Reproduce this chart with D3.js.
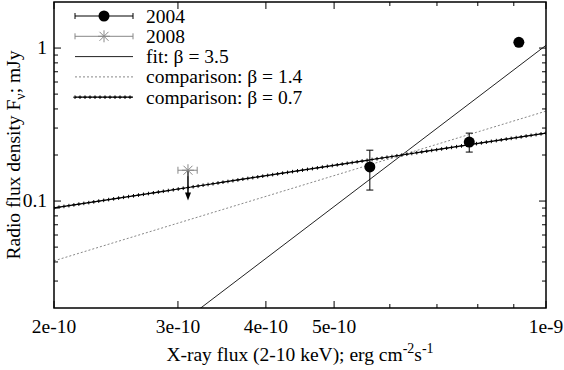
<!DOCTYPE html>
<html><head><meta charset="utf-8">
<script src="https://cdn.jsdelivr.net/npm/d3@7"></script>
<style>body{margin:0;background:#fff}svg{display:block}</style>
</head><body>
<svg id="c" width="564" height="370"></svg>
<script>
// ---- data ----
const xDomain = [2e-10, 1e-9];
const yDomain = [0.02, 2];
const xMajorTicks = [2e-10, 3e-10, 4e-10, 5e-10, 1e-9];
const xMajorLabels = ["2e-10", "3e-10", "4e-10", "5e-10", "1e-9"];
const xMinorTicks = [6e-10, 7e-10, 8e-10, 9e-10];
const yMajorTicks = [0.1, 1];
const yMajorLabels = ["0.1", "1"];
const yMinorTicks = [0.03,0.04,0.05,0.06,0.07,0.08,0.09,0.2,0.3,0.4,0.5,0.6,0.7,0.8,0.9];

const x2004 = [5.62e-10, 7.78e-10, 9.15e-10];
const y2004 = [0.167, 0.243, 1.09];
const y2004Lo = [0.118, 0.209, null];
const y2004Hi = [0.215, 0.278, null];

const x2008 = [3.10e-10];
const y2008 = [0.159];
const x2008Lo = [3.00e-10];
const x2008Hi = [3.195e-10];
const y2008Arrow = [0.101];

const pivotX = 6.24e-10, pivotY = 0.2;
const betaFit = 3.5, betaCmp1 = 1.4, betaCmp2 = 0.7;
const nSamples = 100;
const legendLabels = ["2004", "2008", "fit: β = 3.5", "comparison: β = 1.4", "comparison: β = 0.7"];

// ---- layout ----
const L = 54, R = 546, T = 2, B = 308;
const FONT = "Liberation Serif";
const svg = d3.select("#c");
const x = d3.scaleLog().domain(xDomain).range([L, R]);
const y = d3.scaleLog().domain(yDomain).range([B, T]);
const FS = 19.5;
function txt(sel){ return sel.append("text").attr("font-family",FONT).attr("font-size",FS).attr("fill","#000"); }

svg.append("defs").append("clipPath").attr("id","clip")
  .append("rect").attr("x",L).attr("y",T).attr("width",R-L).attr("height",B-T);
const g = svg.append("g").attr("clip-path","url(#clip)");

function powerLaw(beta){ return v => pivotY*Math.pow(v/pivotX, beta); }
const samples = d3.range(nSamples).map(i => xDomain[0]*Math.pow(xDomain[1]/xDomain[0], i/(nSamples-1)));
const line = d3.line().x(d => x(d[0])).y(d => y(d[1]));

// fit
g.append("path").attr("d", line(xDomain.map(v=>[v, powerLaw(betaFit)(v)])))
  .attr("fill","none").attr("stroke","#222").attr("stroke-width",1);
// comparison 1.4 dotted
g.append("path").attr("d", line(xDomain.map(v=>[v, powerLaw(betaCmp1)(v)])))
  .attr("fill","none").attr("stroke","#888").attr("stroke-width",1).attr("stroke-dasharray","2,2");
// comparison 0.7 with plus markers
const pts07 = samples.map(v=>[v, powerLaw(betaCmp2)(v)]);
g.append("path").attr("d", line(pts07)).attr("fill","none").attr("stroke","#000").attr("stroke-width",1.2);
function plus(sel, cx, cy, s, col){
  sel.append("path").attr("d",`M${cx-s},${cy}H${cx+s}M${cx},${cy-s}V${cy+s}`).attr("stroke",col).attr("stroke-width",1);
}
pts07.forEach(p => plus(g, x(p[0]), y(p[1]), 1.8, "#000"));

// frame ticks
const ax = svg.append("g").attr("stroke","#000").attr("stroke-width",1);
function xt(v,len){
  ax.append("line").attr("x1",x(v)).attr("x2",x(v)).attr("y1",B).attr("y2",B-len);
  ax.append("line").attr("x1",x(v)).attr("x2",x(v)).attr("y1",T).attr("y2",T+len);
}
function yt(v,len){
  ax.append("line").attr("y1",y(v)).attr("y2",y(v)).attr("x1",L).attr("x2",L+len);
  ax.append("line").attr("y1",y(v)).attr("y2",y(v)).attr("x1",R).attr("x2",R-len);
}
xMajorTicks.forEach(v=>xt(v,7));
xMinorTicks.forEach(v=>xt(v,4));
yMajorTicks.forEach(v=>yt(v,7));
yMinorTicks.forEach(v=>yt(v,4));

xMajorTicks.forEach((v,i)=>{
  txt(svg).attr("x",x(v)).attr("y",333).attr("text-anchor","middle").text(xMajorLabels[i]);
});
yMajorTicks.forEach((v,i)=>{
  txt(svg).attr("x",47).attr("y",y(v)+6).attr("text-anchor","end").text(yMajorLabels[i]);
});

// frame
svg.append("rect").attr("x",L).attr("y",T).attr("width",R-L).attr("height",B-T)
  .attr("fill","none").attr("stroke","#000").attr("stroke-width",1.5);

// axis titles
const xl = txt(svg).attr("x",(L+R)/2).attr("y",361).attr("text-anchor","middle");
xl.append("tspan").text("X-ray flux (2-10 keV); erg cm");
xl.append("tspan").attr("dy",-8).attr("font-size",14).text("-2");
xl.append("tspan").attr("dy",8).text("s");
xl.append("tspan").attr("dy",-8).attr("font-size",14).text("-1");

const yl = txt(svg).attr("transform",`translate(20,${(T+B)/2}) rotate(-90)`).attr("text-anchor","middle");
yl.append("tspan").text("Radio flux density F");
yl.append("tspan").attr("dy",5).attr("font-size",14).text("ν");
yl.append("tspan").attr("dy",-5).text("; mJy");

// 2004 points with error bars
const d = svg.append("g");
x2004.forEach((v,i)=>{
  const cx = x(v), cy = y(y2004[i]);
  if (y2004Lo[i] !== null) {
    const y1 = y(y2004Lo[i]), y2 = y(y2004Hi[i]);
    d.append("path").attr("d",`M${cx},${y1}V${y2}M${cx-3.5},${y1}H${cx+3.5}M${cx-3.5},${y2}H${cx+3.5}`)
      .attr("stroke","#000").attr("stroke-width",1).attr("fill","none");
  }
  d.append("circle").attr("cx",cx).attr("cy",cy).attr("r",5.5).attr("fill","#000");
});

// 2008 upper limit
function star(sel,cx,cy,s,col){
  const k = s*0.75;
  sel.append("path").attr("d",`M${cx-s},${cy}H${cx+s}M${cx},${cy-s}V${cy+s}M${cx-k},${cy-k}L${cx+k},${cy+k}M${cx-k},${cy+k}L${cx+k},${cy-k}`)
    .attr("stroke",col).attr("stroke-width",1).attr("fill","none");
}
x2008.forEach((v,i)=>{
  const cx = x(v), cy = y(y2008[i]);
  const x1 = x(x2008Lo[i]), x2 = x(x2008Hi[i]);
  const ya = y(y2008Arrow[i]);
  d.append("path").attr("d",`M${cx},${cy}V${ya-7}`).attr("stroke","#000").attr("stroke-width",1.5);
  d.append("path").attr("d",`M${cx-3},${ya-8}L${cx+3},${ya-8}L${cx},${ya}Z`).attr("fill","#000");
  d.append("path").attr("d",`M${x1},${cy}H${x2}M${x1},${cy-3.5}V${cy+3.5}M${x2},${cy-3.5}V${cy+3.5}`)
    .attr("stroke","#888").attr("stroke-width",1).attr("fill","none");
  star(d,cx,cy,6,"#888");
});

// legend
const lg = svg.append("g");
const lx1 = 75, lx2 = 133, lmid = 104, ltx = 146;
legendLabels.forEach((t,i)=>{
  const ly = 16 + i*20.3;
  txt(lg).attr("x",ltx).attr("y",ly+6.5).text(t);
  if (i===0){
    lg.append("path").attr("d",`M${lx1},${ly}H${lx2}M${lx1},${ly-3}V${ly+3}M${lx2},${ly-3}V${ly+3}`).attr("stroke","#000").attr("stroke-width",1);
    lg.append("circle").attr("cx",lmid).attr("cy",ly).attr("r",5.5).attr("fill","#000");
  } else if (i===1){
    lg.append("path").attr("d",`M${lx1},${ly}H${lx2}M${lx1},${ly-3}V${ly+3}M${lx2},${ly-3}V${ly+3}`).attr("stroke","#888").attr("stroke-width",1);
    star(lg,lmid,ly,6,"#888");
  } else if (i===2){
    lg.append("path").attr("d",`M${lx1},${ly}H${lx2}`).attr("stroke","#222").attr("stroke-width",1);
  } else if (i===3){
    lg.append("path").attr("d",`M${lx1},${ly}H${lx2}`).attr("stroke","#888").attr("stroke-width",1).attr("stroke-dasharray","2,2");
  } else {
    lg.append("path").attr("d",`M${lx1},${ly}H${lx2}`).attr("stroke","#000").attr("stroke-width",1.2);
    d3.range(lx1, lx2+1, 5).forEach(px=>plus(lg,px,ly,1.8,"#000"));
  }
});
</script>
</body></html>
